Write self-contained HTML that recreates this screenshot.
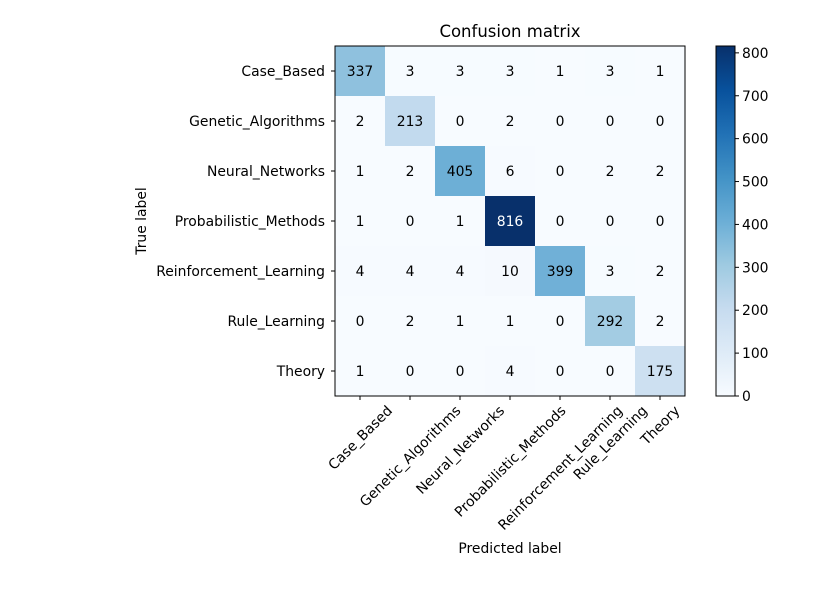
<!DOCTYPE html>
<html><head><meta charset="utf-8"><style>
html,body{margin:0;padding:0;background:#fff;}
svg text{font-family:"DejaVu Sans","Liberation Sans",sans-serif;font-size:13.9px;fill:#000;}
</style></head><body>
<svg id="chart" width="822" height="585" xmlns="http://www.w3.org/2000/svg">
<rect width="822" height="585" fill="#fff"/>
<text x="510" y="37" text-anchor="middle" style="font-size:16.5px">Confusion matrix</text>
<text x="510" y="553" text-anchor="middle">Predicted label</text>
<text transform="translate(146,221) rotate(-90)" text-anchor="middle">True label</text>
<g id="cells"></g><g id="axes"></g><g id="cbar"></g>
</svg>
<script>
const classes=["Case_Based","Genetic_Algorithms","Neural_Networks","Probabilistic_Methods","Reinforcement_Learning","Rule_Learning","Theory"];
const matrix=[
[337,3,3,3,1,3,1],
[2,213,0,2,0,0,0],
[1,2,405,6,0,2,2],
[1,0,1,816,0,0,0],
[4,4,4,10,399,3,2],
[0,2,1,1,0,292,2],
[1,0,0,4,0,0,175]];
const cbarTicks=[0,100,200,300,400,500,600,700,800];
const NS="http://www.w3.org/2000/svg";
const X0=335,Y0=46,W=350,H=350,CB0=716,CBW=19;
const n=classes.length,cw=W/n,ch=H/n;
const vmax=Math.max(...matrix.flat()),vmin=0;
const stops=["#f7fbff","#deebf7","#c6dbef","#9ecae1","#6baed6","#4292c6","#2171b5","#08519c","#08306b"];
function hex(h){return [1,3,5].map(i=>parseInt(h.substr(i,2),16));}
function color(v){let t=(v-vmin)/(vmax-vmin);t=Math.max(0,Math.min(1,t));const p=t*8,i=Math.min(7,Math.floor(p)),f=p-i;const a=hex(stops[i]),b=hex(stops[i+1]);return "rgb("+a.map((c,k)=>Math.round(c+(b[k]-c)*f)).join(",")+")";}
function xs(j){return X0+j*cw;} function ys(i){return Y0+i*ch;}
function cy(v){return Y0+H-(v-vmin)/(vmax-vmin)*H;}
function mk(tag,attrs,parent,txt){const e=document.createElementNS(NS,tag);for(const k in attrs)e.setAttribute(k,attrs[k]);if(txt!==undefined)e.textContent=txt;parent.appendChild(e);return e;}
const cells=document.getElementById('cells'),axes=document.getElementById('axes'),cb=document.getElementById('cbar');
matrix.forEach((row,i)=>row.forEach((v,j)=>{
 const r=mk('rect',{x:xs(j),y:ys(i),width:cw+0.5,height:ch+0.5,fill:color(v)},cells);
 
 
 const t=mk('text',{x:xs(j)+cw/2,y:ys(i)+ch/2+5,'text-anchor':'middle',style:'fill:'+(v>vmax/2?'#fff':'#000')},cells,String(v));
 
 
}));
const frame=mk('rect',{x:X0,y:Y0,width:W,height:H,fill:'none',stroke:'#000','stroke-width':1},axes);


classes.forEach((c,i)=>{
 const y=ys(i)+ch/2;
 mk('line',{x1:X0-4,x2:X0,y1:y,y2:y,stroke:'#000'},axes);
 const t=mk('text',{x:X0-10,y:y+5,'text-anchor':'end'},axes,c);
 
 
 const x=xs(i)+cw/2;
 mk('line',{x1:x,x2:x,y1:Y0+H,y2:Y0+H+4,stroke:'#000'},axes);
 const tx=mk('text',{'text-anchor':'middle'},axes,c);
 
 
 const L=tx.getComputedTextLength();
 const half=(L+14)*0.7071/2;
 tx.setAttribute('transform','translate('+x+','+(Y0+H+7+half)+') rotate(-45)');
 tx.setAttribute('dy','5');
});
const defs=mk('defs',{},cb);const g=mk('linearGradient',{id:'gr',x1:0,y1:1,x2:0,y2:0},defs);
stops.forEach((s,k)=>mk('stop',{offset:k/8,'stop-color':s},g));
const bar=mk('rect',{x:CB0,y:Y0,width:CBW,height:H,fill:'url(#gr)',stroke:'#000'},cb);


cbarTicks.forEach(v=>{const y=cy(v);
 mk('line',{x1:CB0+CBW,x2:CB0+CBW+4,y1:y,y2:y,stroke:'#000'},cb);
 const t=mk('text',{x:CB0+CBW+7,y:y+5},cb,String(v));
 
 
});
</script>
</body></html>
